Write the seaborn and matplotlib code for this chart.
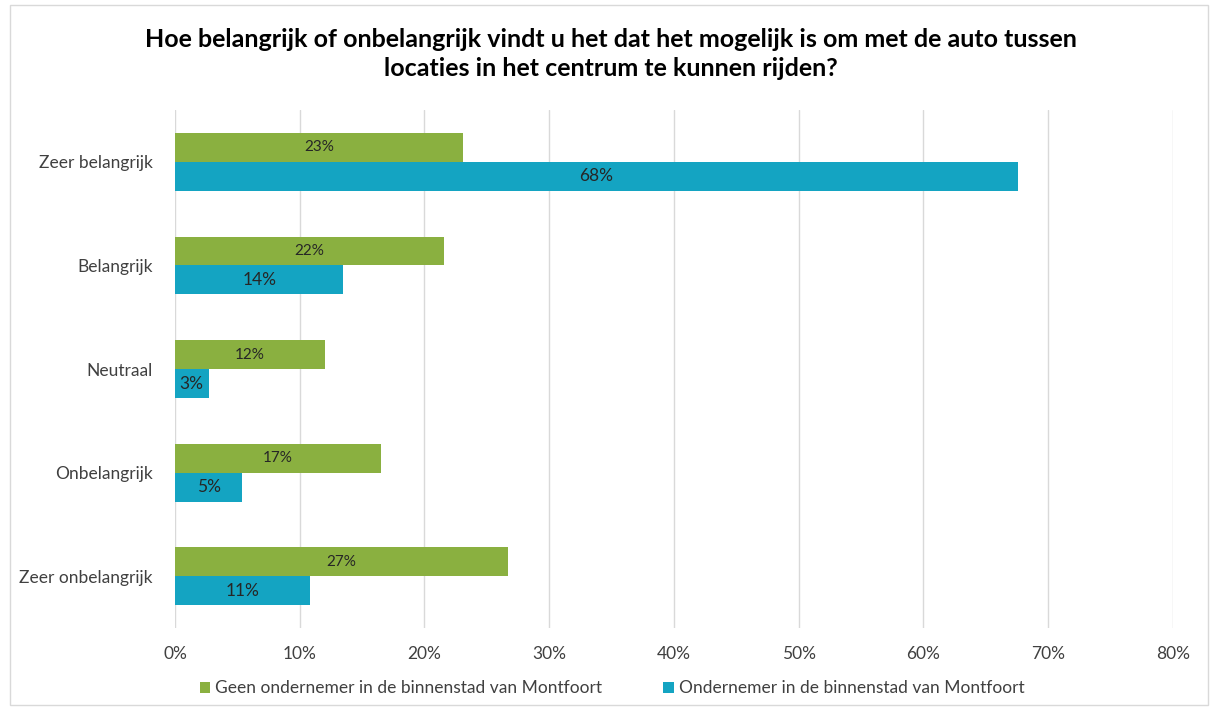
import pandas as pd
import seaborn as sns
import matplotlib.pyplot as plt
from matplotlib.patches import Rectangle

# Categories and series values (in %)
categories = ['Zeer belangrijk', 'Belangrijk', 'Neutraal', 'Onbelangrijk', 'Zeer onbelangrijk']
series_names = ['Geen ondernemer in de binnenstad van Montfoort',
                'Ondernemer in de binnenstad van Montfoort']
geen_ondernemer = [23.1, 21.6, 12.0, 16.5, 26.7]
ondernemer = [67.6, 13.5, 2.7, 5.4, 10.8]
geen_labels = ['23%', '22%', '12%', '17%', '27%']
ondernemer_labels = ['68%', '14%', '3%', '5%', '11%']
tick_vals = [0, 10, 20, 30, 40, 50, 60, 70, 80]
tick_labels = ['0%', '10%', '20%', '30%', '40%', '50%', '60%', '70%', '80%']

df = pd.DataFrame({
    'categorie': categories * 2,
    'serie': [series_names[0]] * 5 + [series_names[1]] * 5,
    'waarde': geen_ondernemer + ondernemer,
})

sns.set_theme(style='white')
plt.rcParams['font.family'] = ['Lato', 'DejaVu Sans']

fig = plt.figure(figsize=(12.1, 7.11), dpi=100)
ax = fig.add_axes([0.1446, 0.117, 0.8248, 0.728])

palette = {series_names[0]: '#8AB040', series_names[1]: '#14A4C2'}
sns.barplot(data=df, x='waarde', y='categorie', hue='serie', order=categories,
            hue_order=series_names, palette=palette, orient='h', width=0.56,
            saturation=1, linewidth=0, ax=ax, legend=True)

# data labels
for cont, labels, size in zip(ax.containers, [geen_labels, ondernemer_labels], [11, 12.5]):
    ax.bar_label(cont, labels=labels, label_type='center', fontsize=size, color='#262626')

ax.set_xlim(0, 80)
ax.set_xticks(tick_vals)
ax.set_xticklabels(tick_labels, fontsize=12.5, color='#404040')
ax.tick_params(axis='y', labelsize=12.5, labelcolor='#404040', pad=16, length=0)
ax.tick_params(axis='x', pad=13, length=0)
ax.set_xlabel('')
ax.set_ylabel('')
ax.grid(axis='x', color='#D9D9D9', linewidth=1)
ax.set_axisbelow(True)
for s in ax.spines.values():
    s.set_visible(False)
ax.axvline(0, color='#D9D9D9', linewidth=1.2, zorder=0.5)

ax.legend(loc='center', bbox_to_anchor=(0.438, -0.117),
          ncol=2, frameon=False, fontsize=12.5, handlelength=0.6, handleheight=0.6,
          handletextpad=0.3, columnspacing=3.5, labelcolor='#404040')

fig.text(0.505, 0.924, 'Hoe belangrijk of onbelangrijk vindt u het dat het mogelijk is om met de auto tussen\nlocaties in het centrum te kunnen rijden?',
         ha='center', va='center', fontsize=18, fontweight='bold', color='#000000', linespacing=1.35)

# chart border
fig.patches.append(Rectangle((0.008, 0.008), 0.99, 0.985, transform=fig.transFigure,
                             fill=False, edgecolor='#D9D9D9', linewidth=1))

fig.savefig('out.png', dpi=100)
